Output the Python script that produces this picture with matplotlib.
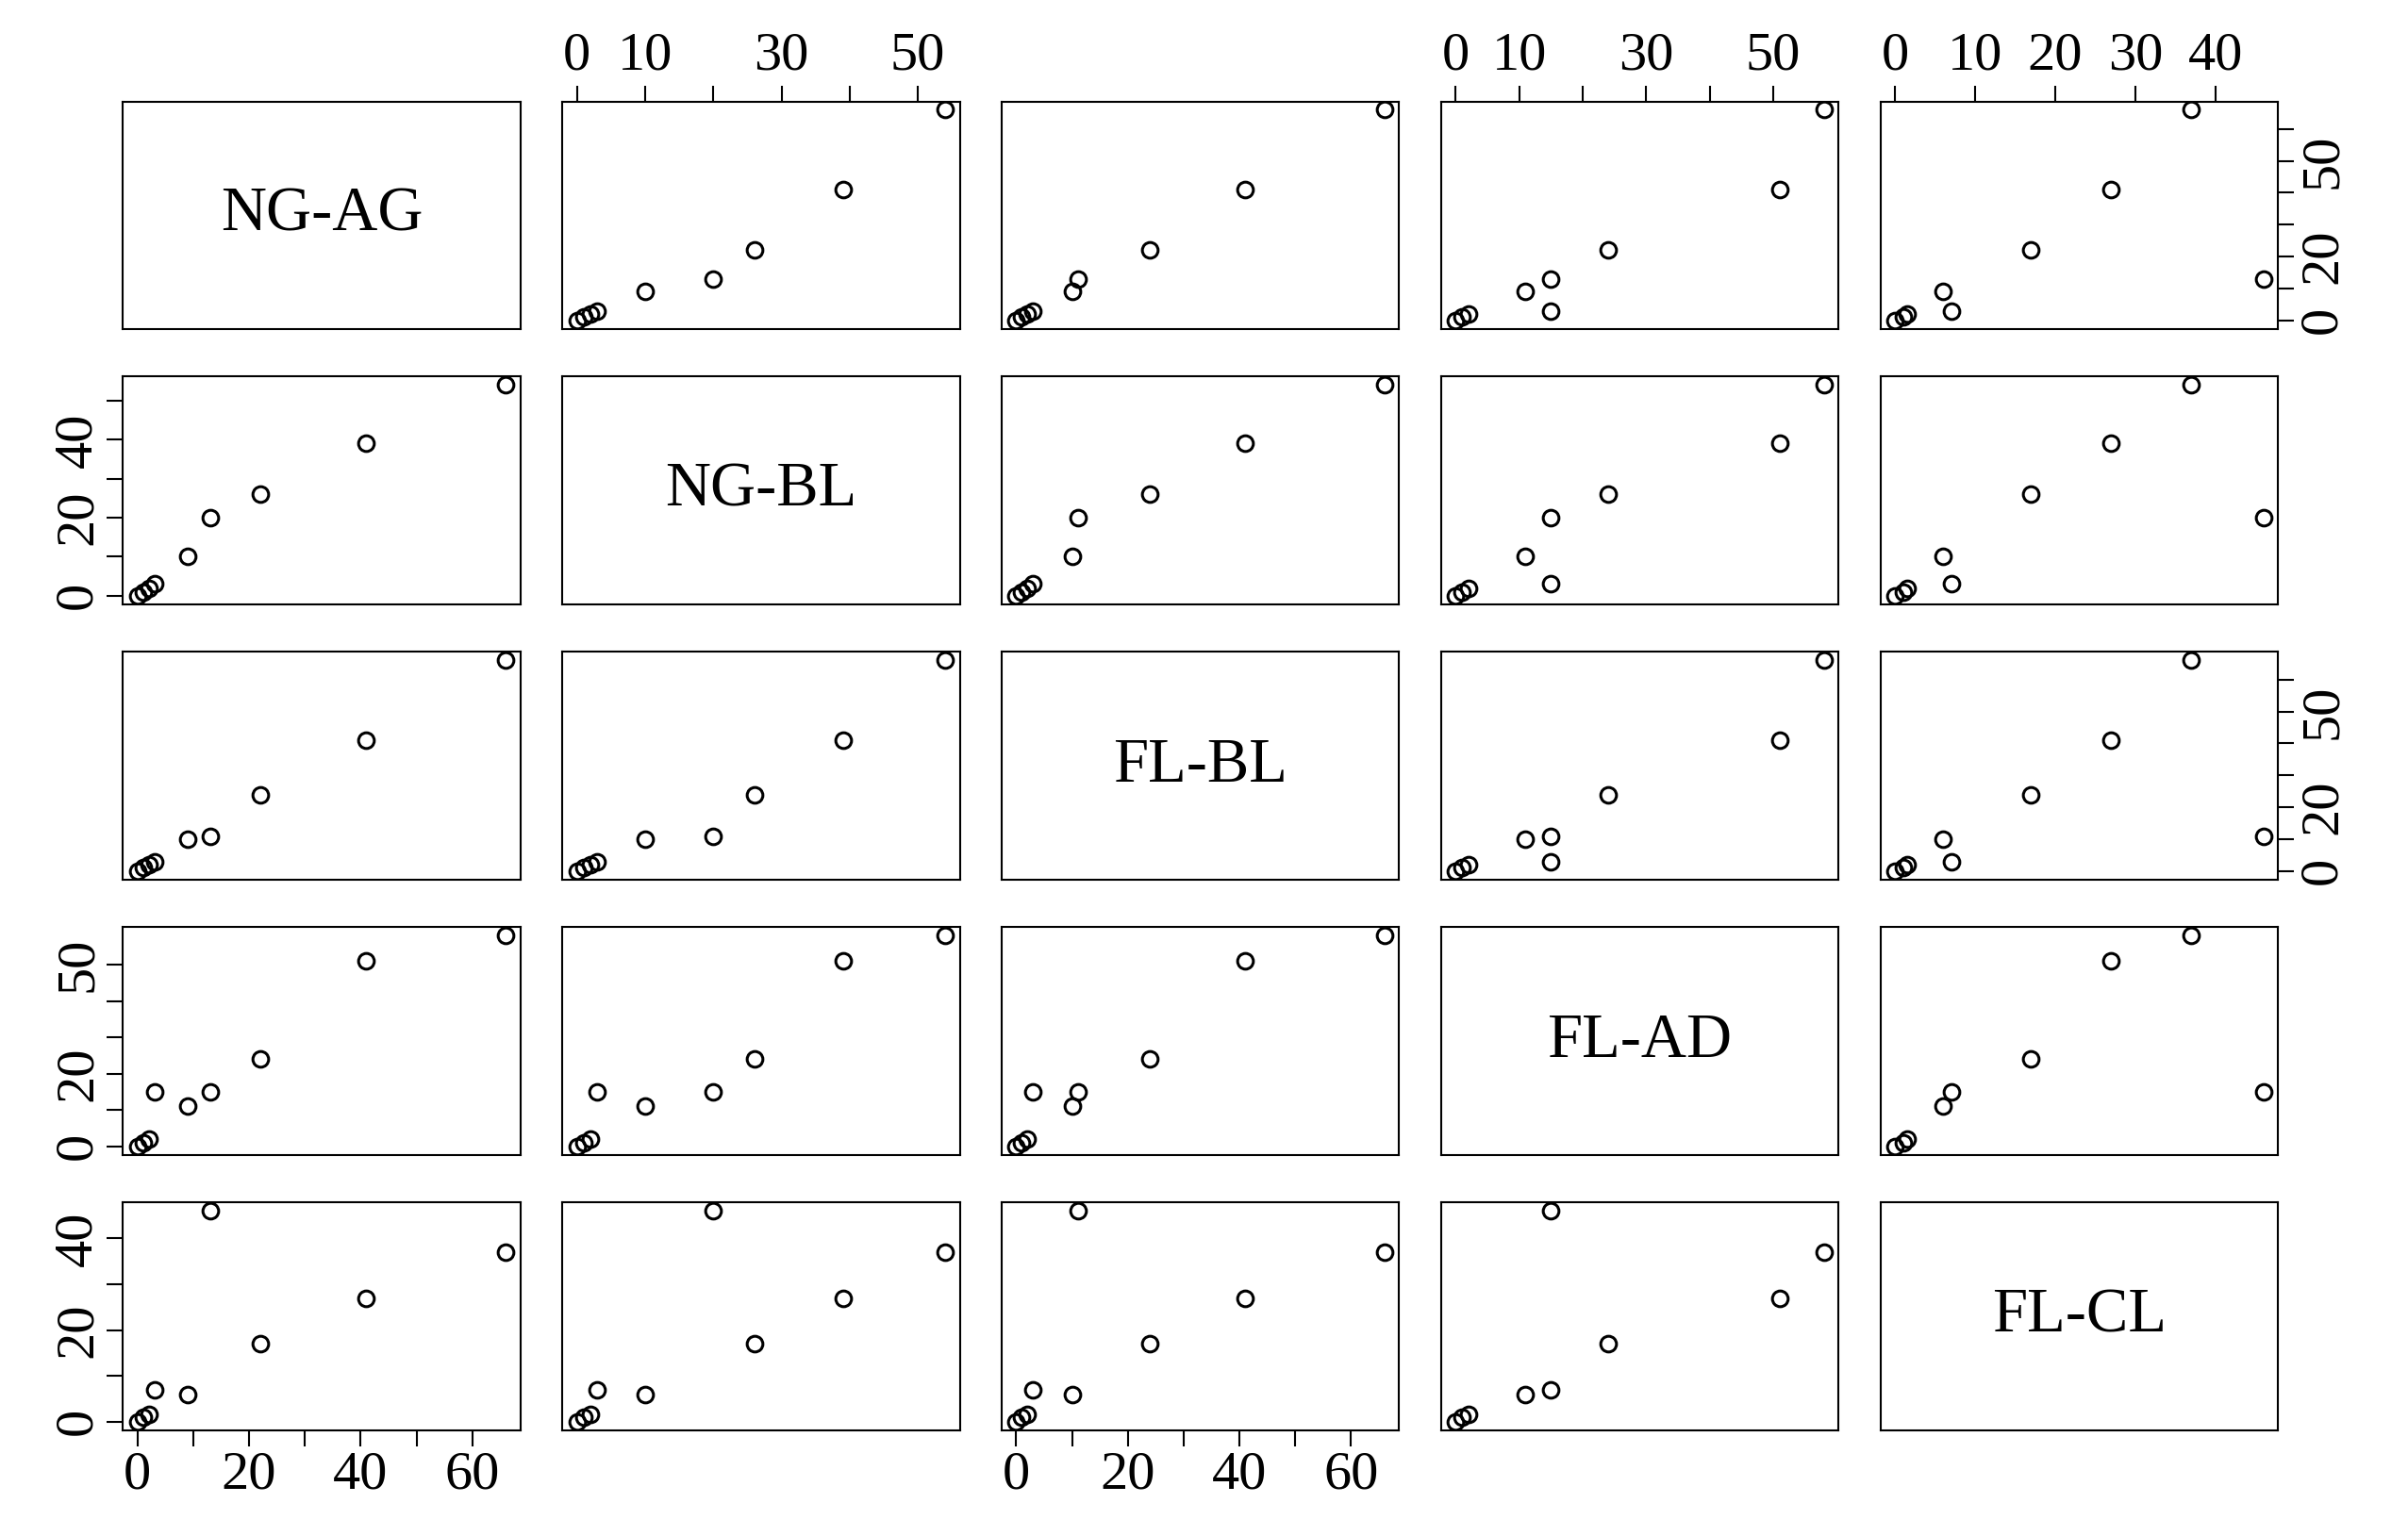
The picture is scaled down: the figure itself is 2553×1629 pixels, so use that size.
import matplotlib.pyplot as plt
import numpy as np

plt.rcParams['font.family'] = ['Liberation Serif', 'DejaVu Serif']

names = ['NG-AG', 'NG-BL', 'FL-BL', 'FL-AD', 'FL-CL']
ng_ag = [0, 1, 2, 3, 9, 13, 22, 41, 66]
ng_bl = [0, 1, 2, 3, 10, 20, 26, 39, 54]
fl_bl = [0, 1, 2, 3, 10, 11, 24, 41, 66]
fl_ad = [0, 1, 2, 15, 11, 15, 24, 51, 58]
fl_cl = [0, 1, 1.5, 7, 6, 46, 17, 27, 37]
data = [ng_ag, ng_bl, fl_bl, fl_ad, fl_cl]

# x ticks: labels shown, all tick positions
ticks = [
    ([0, 20, 40, 60], [0, 10, 20, 30, 40, 50, 60]),
    ([0, 10, 30, 50], [0, 10, 20, 30, 40, 50]),
    ([0, 20, 40, 60], [0, 10, 20, 30, 40, 50, 60]),
    ([0, 10, 30, 50], [0, 10, 20, 30, 40, 50]),
    ([0, 10, 20, 30, 40], [0, 10, 20, 30, 40]),
]
yticks = {0: ([0, 20, 50], [0, 10, 20, 30, 40, 50, 60]),
          1: ([0, 20, 40], [0, 10, 20, 30, 40, 50]),
          2: ([0, 20, 50], [0, 10, 20, 30, 40, 50, 60]),
          3: ([0, 20, 50], [0, 10, 20, 30, 40, 50]),
          4: ([0, 20, 40], [0, 10, 20, 30, 40])}

fig, axes = plt.subplots(5, 5, figsize=(25.53, 16.29), dpi=100)
fig.subplots_adjust(left=0.051, right=0.946, top=0.934, bottom=0.069,
                    wspace=0.105, hspace=0.21)

fs = 42
for i in range(5):
    for j in range(5):
        ax = axes[i, j]
        xv, yv = np.array(data[j]), np.array(data[i])
        xr = xv.max() - xv.min()
        yr = yv.max() - yv.min()
        ax.set_xlim(xv.min() - 0.04 * xr, xv.max() + 0.04 * xr)
        ax.set_ylim(yv.min() - 0.04 * yr, yv.max() + 0.04 * yr)
        for s in ax.spines.values():
            s.set_linewidth(1.5)
        ax.set_xticks([])
        ax.set_yticks([])
        if i == j:
            ax.text(0.5, 0.5, names[i], transform=ax.transAxes,
                    ha='center', va='center', fontsize=48)
        else:
            ax.plot(xv, yv, 'o', mfc='none', mec='black', ms=12, mew=2.2)
        # x axes: bottom for cols 0, 2; top for cols 1, 3, 4
        if (i == 4 and j in (0, 2)) or (i == 0 and j in (1, 3, 4)):
            lab, minor = ticks[j]
            ax.set_xticks(minor)
            ax.set_xticklabels([str(t) if t in lab else '' for t in minor])
            ax.tick_params(axis='x', labelsize=fs, length=12, width=1.5,
                           direction='out', bottom=(i == 4), labelbottom=(i == 4),
                           top=(i == 0), labeltop=(i == 0))
        # y axes: left for rows 1, 3, 4; right for rows 0, 2
        if (j == 0 and i in (1, 3, 4)) or (j == 4 and i in (0, 2)):
            lab, minor = yticks[i]
            ax.set_yticks(minor)
            ax.set_yticklabels([str(t) if t in lab else '' for t in minor],
                               rotation=90, va='center')
            ax.tick_params(axis='y', labelsize=fs, length=12, width=1.5,
                           left=(j == 0), labelleft=(j == 0),
                           right=(j == 4), labelright=(j == 4))

fig.savefig('out.png', dpi=100)
